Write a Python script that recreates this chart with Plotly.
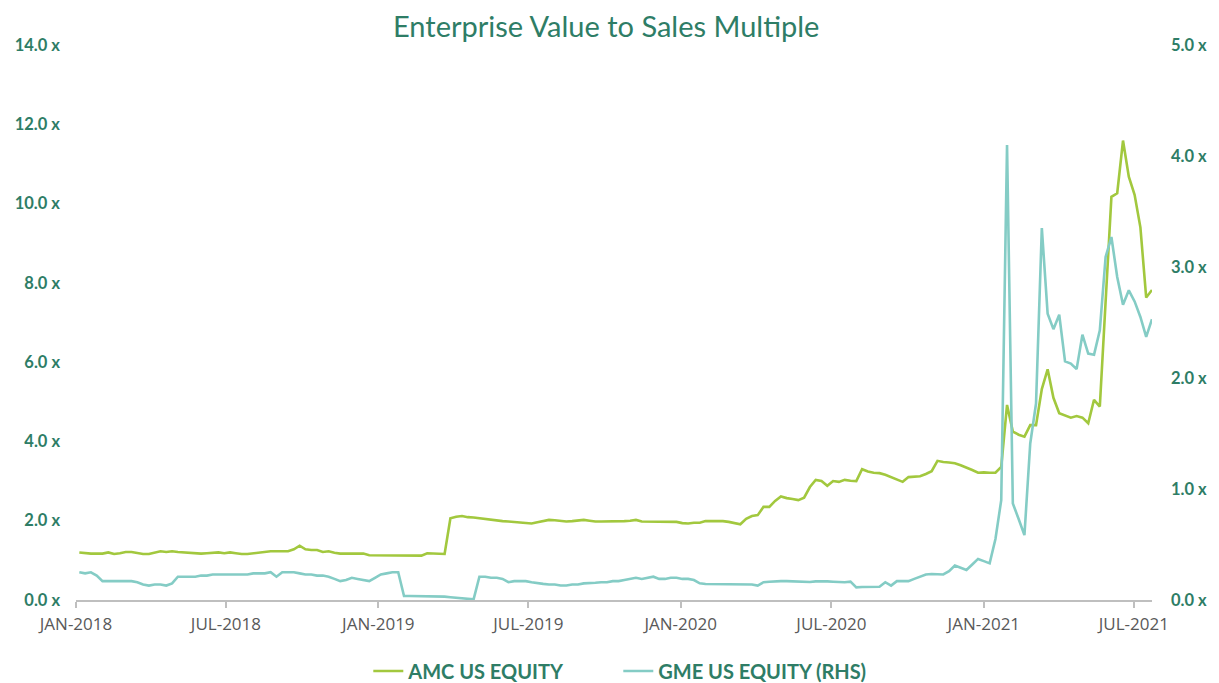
import pandas as pd
import plotly.graph_objects as go

# Weekly observation dates (Fridays), Jan 2018 - Jul 2021
dates = pd.date_range("2018-01-05", periods=186, freq="7D")

amc_2018 = [1.20, 1.18, 1.17, 1.17, 1.17, 1.20, 1.16, 1.18, 1.21, 1.21,
            1.18, 1.16, 1.16, 1.20, 1.23, 1.21, 1.23, 1.21, 1.20, 1.19,
            1.18, 1.17, 1.18, 1.19, 1.20, 1.18, 1.20, 1.18, 1.16, 1.16,
            1.18, 1.20, 1.22, 1.23, 1.23, 1.23, 1.23, 1.28, 1.37, 1.28,
            1.26, 1.26, 1.21, 1.23, 1.19, 1.17, 1.17, 1.17, 1.17, 1.17,
            1.13, 1.13, 1.12, 1.12]
amc_2019 = [1.12, 1.12, 1.12, 1.12, 1.12, 1.12, 1.18, 1.17, 1.16, 1.16,
            2.06, 2.10, 2.12, 2.09, 2.08, 2.06, 2.05, 2.03, 2.01, 1.99,
            1.98, 1.97, 1.95, 1.94, 1.93, 1.96, 1.99, 2.02, 2.01, 1.99,
            1.98, 1.99, 2.00, 2.02, 2.00, 1.98, 1.98, 1.98, 1.98, 1.98,
            1.99, 2.00, 2.02, 1.98, 1.98, 1.98, 1.98, 1.98, 1.98, 1.97,
            1.94, 1.93]
amc_2020 = [1.95, 1.95, 1.99, 1.99, 1.99, 1.99, 1.97, 1.94, 1.91, 2.05,
            2.12, 2.14, 2.35, 2.35, 2.50, 2.61, 2.57, 2.55, 2.52, 2.58,
            2.85, 3.03, 3.00, 2.88, 3.00, 2.98, 3.03, 3.01, 3.00, 3.30,
            3.24, 3.21, 3.20, 3.16, 3.10, 3.04, 2.98, 3.10, 3.11, 3.12,
            3.18, 3.25, 3.51, 3.48, 3.47, 3.45, 3.40, 3.35, 3.28, 3.21,
            3.22, 3.21, 3.21, 3.36]
amc_2021 = [4.92, 4.25, 4.17, 4.12, 4.41, 4.41, 5.32, 5.82, 5.10, 4.71,
            4.65, 4.60, 4.64, 4.60, 4.46, 5.05, 4.88, 7.60, 10.17, 10.26,
            11.59, 10.68, 10.22, 9.40, 7.63, 7.82]

gme_2018 = [0.25, 0.24, 0.25, 0.22, 0.17, 0.17, 0.17, 0.17, 0.17, 0.17,
            0.16, 0.14, 0.13, 0.14, 0.14, 0.13, 0.15, 0.21, 0.21, 0.21,
            0.21, 0.22, 0.22, 0.23, 0.23, 0.23, 0.23, 0.23, 0.23, 0.23,
            0.24, 0.24, 0.24, 0.25, 0.21, 0.25, 0.25, 0.25, 0.24, 0.23,
            0.23, 0.22, 0.22, 0.21, 0.19, 0.17, 0.18, 0.20, 0.19, 0.18,
            0.17, 0.20, 0.23, 0.24]
gme_2019 = [0.25, 0.25, 0.036, 0.036, 0.036, 0.036, 0.036, 0.036, 0.033, 0.030,
            0.025, 0.020, 0.015, 0.010, 0.006, 0.21, 0.21, 0.20, 0.20, 0.19,
            0.16, 0.17, 0.17, 0.17, 0.16, 0.15, 0.145, 0.14, 0.14, 0.13,
            0.13, 0.14, 0.14, 0.15, 0.15, 0.155, 0.16, 0.16, 0.17, 0.17,
            0.18, 0.19, 0.20, 0.19, 0.20, 0.21, 0.19, 0.19, 0.20, 0.20,
            0.19, 0.19]
gme_2020 = [0.18, 0.15, 0.144, 0.144, 0.144, 0.144, 0.144, 0.144, 0.144, 0.144,
            0.14, 0.13, 0.16, 0.165, 0.17, 0.17, 0.17, 0.168, 0.165, 0.16,
            0.162, 0.168, 0.17, 0.168, 0.165, 0.163, 0.16, 0.165, 0.114, 0.117,
            0.12, 0.12, 0.12, 0.16, 0.13, 0.17, 0.17, 0.17, 0.19, 0.21,
            0.23, 0.234, 0.234, 0.23, 0.26, 0.31, 0.29, 0.27, 0.32, 0.37,
            0.35, 0.33, 0.55, 0.90]
gme_2021 = [4.10, 0.87, 0.73, 0.585, 1.41, 1.77, 3.35, 2.58, 2.44, 2.57,
            2.15, 2.13, 2.08, 2.39, 2.22, 2.21, 2.43, 3.09, 3.27, 2.91,
            2.66, 2.79, 2.69, 2.55, 2.37, 2.53]

amc = amc_2018 + amc_2019 + amc_2020 + amc_2021
gme = gme_2018 + gme_2019 + gme_2020 + gme_2021

x_tick_vals = ["2018-01-01", "2018-07-01", "2019-01-01", "2019-07-01",
               "2020-01-01", "2020-07-01", "2021-01-01", "2021-07-01"]
x_tick_text = ["JAN-2018", "JUL-2018", "JAN-2019", "JUL-2019",
               "JAN-2020", "JUL-2020", "JAN-2021", "JUL-2021"]
left_ticks = [0, 2, 4, 6, 8, 10, 12, 14]
right_ticks = [0, 1, 2, 3, 4, 5]

GREEN = "#A2C83E"
TEAL = "#84CCC5"
TXT = "#2E7D66"

W, H = 1211, 675  # page body adds an 8px offset

fig = go.Figure()
fig.add_trace(go.Scatter(x=dates, y=amc, name="AMC US EQUITY", mode="lines",
                         line=dict(color=GREEN, width=2.6)))
fig.add_trace(go.Scatter(x=dates, y=gme, name="GME US EQUITY (RHS)", mode="lines",
                         line=dict(color=TEAL, width=2.6), yaxis="y2"))

fig.update_layout(
    width=W, height=H,
    margin=dict(l=68, r=67, t=37, b=83, autoexpand=False),
    paper_bgcolor="white", plot_bgcolor="white",
    title=dict(text="Enterprise Value to Sales Multiple", x=0.494, xanchor="center",
               y=1 - 19 / H, yanchor="middle",
               font=dict(family="Lato", size=29, color=TXT)),
    xaxis=dict(type="date", range=["2018-01-01", "2021-07-23"],
               tickvals=x_tick_vals, ticktext=x_tick_text,
               showgrid=False, zeroline=False, automargin=False,
               showline=True, linecolor="#BFBFBF", linewidth=2,
               ticks="outside", ticklen=6, tickcolor="#BFBFBF", tickwidth=1.5,
               ticklabelstandoff=2,
               tickfont=dict(family="Open Sans", size=17, color="#595959")),
    yaxis=dict(range=[0, 14], tickvals=left_ticks,
               ticktext=[f"{v:.1f} x" for v in left_ticks],
               showgrid=False, zeroline=False, showline=False, automargin=False,
               ticklabelstandoff=15,
               tickfont=dict(family="Lato", size=16.5, color=TXT, weight="bold")),
    yaxis2=dict(range=[0, 5], tickvals=right_ticks,
                ticktext=[f"{v:.1f} x" for v in right_ticks],
                overlaying="y", side="right", automargin=False,
                showgrid=False, zeroline=False, showline=False,
                ticklabelstandoff=18,
                tickfont=dict(family="Lato", size=16.5, color=TXT, weight="bold")),
    legend=dict(orientation="h", x=0.504, xanchor="center",
                yref="container", y=12 / H, yanchor="middle",
                font=dict(family="Lato", size=20, color=TXT, weight="bold"),
                itemwidth=30, entrywidth=205, entrywidthmode="pixels"),
    showlegend=True,
)

fig.write_html("out.html")
